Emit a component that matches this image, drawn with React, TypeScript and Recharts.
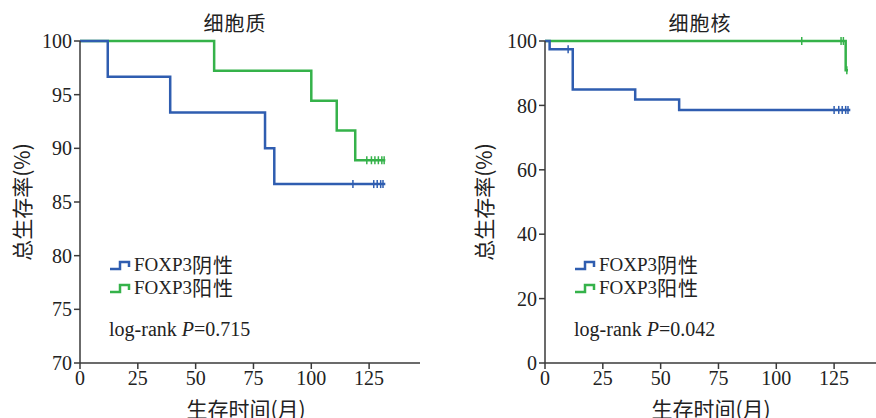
import { ComposedChart, Legend, Line, Scatter, XAxis, YAxis } from "recharts";

// 细胞质
const cytoNegTime = [0, 12, 39, 80, 84, 132];
const cytoNegSurv = [100, 96.67, 93.33, 90.0, 86.67, 86.67];
const cytoNegCensor = [118, 127, 128.5, 130, 131];
const cytoPosTime = [0, 58, 100, 111, 119, 132];
const cytoPosSurv = [100, 97.22, 94.44, 91.67, 88.89, 88.89];
const cytoPosCensor = [124, 126, 127.5, 129, 130.5, 131.5];

// 细胞核
const nucNegTime = [0, 2, 12, 39, 58, 132];
const nucNegSurv = [100, 97.4, 84.9, 81.8, 78.6, 78.6];
const nucNegCensor = [10, 125, 127, 128.5, 130, 131];
const nucPosTime = [0, 130, 131];
const nucPosSurv = [100, 90.9, 90.9];
const nucPosCensor = [111, 128, 129, 130.5];

const xTicks = [0, 25, 50, 75, 100, 125];
const cytoYTicks = [70, 75, 80, 85, 90, 95, 100];
const nucYTicks = [0, 20, 40, 60, 80, 100];

const BLUE = "#2f5db0";
const GREEN = "#35b24a";
const AXIS = "#3a3a3a";
const FONT = '"Liberation Serif", "Noto Sans CJK SC", serif';
const CJK = '"Noto Sans CJK SC", sans-serif';

function steps(time: number[], surv: number[]) {
  return time.map((t, i) => ({ t, s: surv[i] }));
}

function censorPoints(censor: number[], time: number[], surv: number[]) {
  return censor.map((c) => {
    let s = surv[0];
    time.forEach((t, i) => {
      if (t <= c) s = surv[i];
    });
    return { t: c, s };
  });
}

const tick = (color: string) => (p: any) => (
  <line x1={p.cx} x2={p.cx} y1={p.cy - 4} y2={p.cy + 4} stroke={color} strokeWidth={1.5} />
);

function StepIcon({ color }: { color: string }) {
  return (
    <svg width={22} height={12} style={{ marginRight: 3 }}>
      <path d="M1,10 H11 V3 H20 V8" fill="none" stroke={color} strokeWidth={2.5} />
    </svg>
  );
}

function LegendBox({ p }: { p: string }) {
  const row = (color: string, word: string) => (
    <div style={{ display: "flex", alignItems: "center", height: 23, lineHeight: "20px" }}>
      <StepIcon color={color} />
      <span style={{ fontSize: 19 }}>FOXP3</span>
      <span style={{ fontFamily: CJK, fontSize: 20, letterSpacing: 1 }}>{word}</span>
    </div>
  );
  return (
    <div style={{ fontFamily: FONT, color: "#222", lineHeight: 1 }}>
      {row(BLUE, "阴性")}
      {row(GREEN, "阳性")}
      <div style={{ marginTop: 20, fontSize: 20 }}>
        log-rank <i>P</i>=
        {p}
      </div>
    </div>
  );
}

function Panel(props: {
  title: string;
  left: number;
  width: number;
  yAxisWidth: number;
  yDomain: [number, number];
  yTicks: number[];
  neg: { t: number; s: number }[];
  pos: { t: number; s: number }[];
  negC: { t: number; s: number }[];
  posC: { t: number; s: number }[];
  p: string;
  labelX: number;
}) {
  const { yAxisWidth } = props;
  return (
    <div style={{ position: "absolute", left: props.left, top: 0, width: props.width, height: 418 }}>
      <div
        style={{
          position: "absolute",
          left: yAxisWidth - 10,
          width: 330,
          top: 8,
          textAlign: "center",
          fontFamily: CJK,
          fontSize: 20,
          letterSpacing: 1,
          color: "#222",
        }}
      >
        {props.title}
      </div>
      <ComposedChart
        width={props.width}
        height={418}
        margin={{ top: 41, right: props.width - yAxisWidth - 340, bottom: 25, left: 0 }}
      >
        <XAxis
          dataKey="t"
          type="number"
          domain={[0, 147]}
          ticks={xTicks}
          allowDataOverflow
          stroke={AXIS}
          strokeWidth={1.5}
          tickSize={6}
          tick={{ fill: "#222", fontSize: 20, fontFamily: FONT }}
          height={30}
          label={{
            value: "生存时间(月)",
            position: "insideBottom",
            offset: -24,
            dx: -4,
            fill: "#222",
            fontSize: 21,
            fontFamily: CJK,
          }}
        />
        <YAxis
          type="number"
          domain={props.yDomain}
          ticks={props.yTicks}
          width={yAxisWidth}
          stroke={AXIS}
          strokeWidth={1.5}
          tickSize={6}
          tick={{ fill: "#222", fontSize: 20, fontFamily: FONT }}
          label={{
            content: ({ viewBox }: any) => {
              const x = props.labelX;
              const y = viewBox.y + viewBox.height / 2;
              return (
                <text
                  x={x}
                  y={y}
                  transform={`rotate(-90, ${x}, ${y})`}
                  textAnchor="middle"
                  dominantBaseline="central"
                  fill="#222"
                  fontSize={21}
                  fontFamily={CJK}
                >
                  总生存率(%)
                </text>
              );
            },
          }}
        />
        <Legend
          verticalAlign="middle"
          layout="horizontal"
          wrapperStyle={{ left: yAxisWidth + 29, top: 253, width: "auto" }}
          content={() => <LegendBox p={props.p} />}
        />
        <Line data={props.pos} dataKey="s" type="stepAfter" stroke={GREEN} strokeWidth={2.5} dot={false} isAnimationActive={false} />
        <Line data={props.neg} dataKey="s" type="stepAfter" stroke={BLUE} strokeWidth={2.5} dot={false} isAnimationActive={false} />
        <Scatter data={props.posC} dataKey="s" shape={tick(GREEN)} isAnimationActive={false} />
        <Scatter data={props.negC} dataKey="s" shape={tick(BLUE)} isAnimationActive={false} />
      </ComposedChart>
    </div>
  );
}

export default function App() {
  return (
    <div style={{ position: "absolute", left: 0, top: 0, width: 876, height: 418, overflow: "hidden", background: "#fff" }}>
      <Panel
        title="细胞质"
        left={0}
        width={420}
        yAxisWidth={80}
        yDomain={[70, 100]}
        yTicks={cytoYTicks}
        neg={steps(cytoNegTime, cytoNegSurv)}
        pos={steps(cytoPosTime, cytoPosSurv)}
        negC={censorPoints(cytoNegCensor, cytoNegTime, cytoNegSurv)}
        posC={censorPoints(cytoPosCensor, cytoPosTime, cytoPosSurv)}
        p="0.715"
        labelX={21}
      />
      <Panel
        title="细胞核"
        left={440}
        width={450}
        yAxisWidth={105}
        yDomain={[0, 100]}
        yTicks={nucYTicks}
        neg={steps(nucNegTime, nucNegSurv)}
        pos={steps(nucPosTime, nucPosSurv)}
        negC={censorPoints(nucNegCensor, nucNegTime, nucNegSurv)}
        posC={censorPoints(nucPosCensor, nucPosTime, nucPosSurv)}
        p="0.042"
        labelX={43}
      />
    </div>
  );
}
